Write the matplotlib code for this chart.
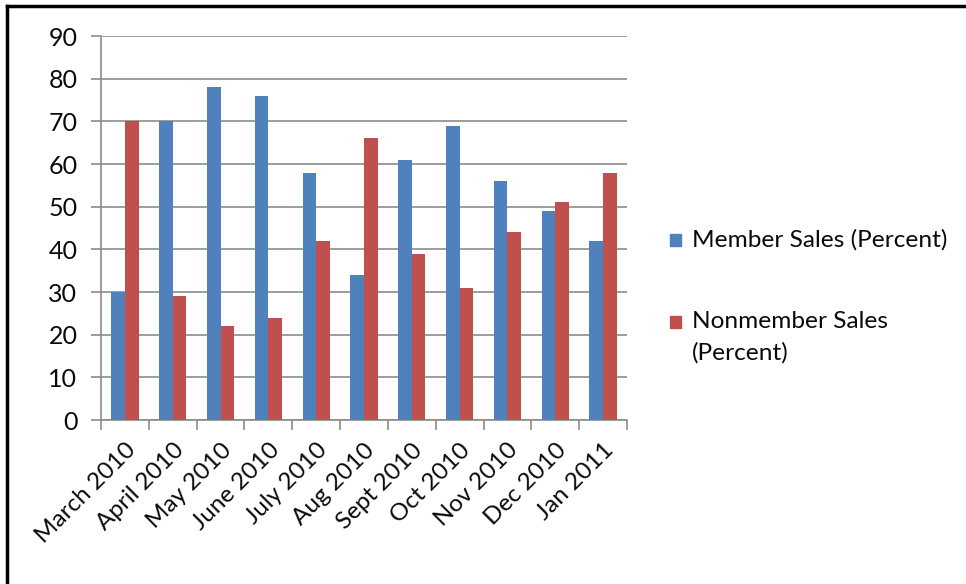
import matplotlib.pyplot as plt
import numpy as np
from matplotlib.lines import Line2D
from matplotlib.patches import Rectangle

months = ["March 2010", "April 2010", "May 2010", "June 2010", "July 2010",
          "Aug 2010", "Sept 2010", "Oct 2010", "Nov 2010", "Dec 2010", "Jan 2011"]
member = [30, 70, 78, 76, 58, 34, 61, 69, 56, 49, 42]
nonmember = [70, 29, 22, 24, 42, 66, 39, 31, 44, 51, 58]
series_names = ["Member Sales (Percent)", "Nonmember Sales\n(Percent)"]

blue = "#4F81BD"
red = "#C0504D"
grid_col = "#8C8C8C"

plt.rcParams["font.family"] = ["Lato", "DejaVu Sans"]

fig = plt.figure(figsize=(9.66, 5.84), dpi=100)
ax = fig.add_axes([0.1046, 0.2808, 0.5445, 0.6575])

x = np.arange(len(months))
w = 0.285
ax.bar(x - w / 2, member, w, color=blue, zorder=3)
ax.bar(x + w / 2, nonmember, w, color=red, zorder=3)

ax.set_xlim(-0.5, len(months) - 0.5)
ax.set_ylim(0, 90)
ax.set_yticks(range(0, 91, 10))
ax.yaxis.grid(True, color=grid_col, linewidth=1.2, zorder=0)
ax.tick_params(axis="y", length=7, width=1.2, color=grid_col, labelsize=18,
               pad=10, labelcolor="#0a0a0a")

ax.set_xticks(x)
ax.set_xticklabels(months, rotation=45, ha="right", rotation_mode="anchor",
                   fontsize=17.5, color="#0a0a0a")
ax.tick_params(axis="x", which="major", length=0, pad=14)
ax.set_xticks(np.arange(-0.5, len(months)), minor=True)
ax.tick_params(axis="x", which="minor", length=7, width=1.2, color=grid_col)

for s in ["top", "right"]:
    ax.spines[s].set_visible(False)
for s in ["left", "bottom"]:
    ax.spines[s].set_color(grid_col)
    ax.spines[s].set_linewidth(1.2)

# legend drawn by hand to match the original layout
leg_x = 670 / 966
leg_rows = [1 - 240 / 584, 1 - 322 / 584]
for name, col, yy in zip(series_names, [blue, red], leg_rows):
    fig.add_artist(Rectangle((leg_x, yy - 6 / 584), 11 / 966, 12 / 584,
                             transform=fig.transFigure, color=col))
    fig.text(leg_x + 22 / 966, yy + 11 / 584, name, fontsize=17.6, va="top",
             ha="left", color="#0a0a0a", linespacing=1.6)

# frame around the chart
fig.add_artist(Line2D([7 / 966, 7 / 966], [0, 1 - 6 / 584],
                      transform=fig.transFigure, color="black", linewidth=2.5))
fig.add_artist(Line2D([7 / 966, 1], [1 - 6 / 584, 1 - 6 / 584],
                      transform=fig.transFigure, color="black", linewidth=2.5))

fig.savefig("out.png", dpi=100)
